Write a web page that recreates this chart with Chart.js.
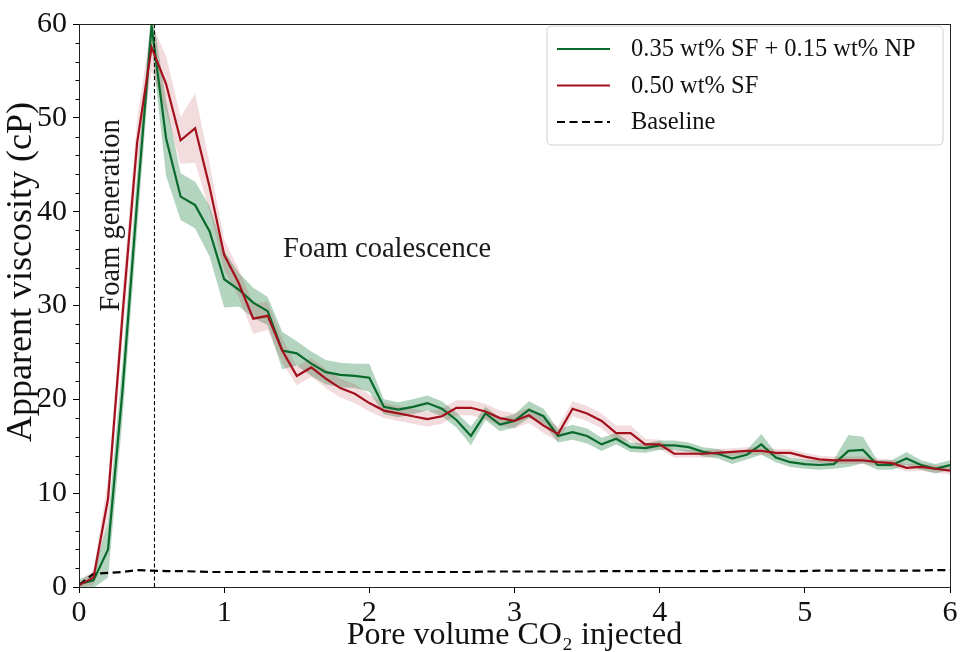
<!DOCTYPE html>
<html><head><meta charset="utf-8">
<script src="https://cdn.jsdelivr.net/npm/chart.js@4.4.1/dist/chart.umd.min.js"></script>
<style>html,body{margin:0;padding:0;background:#fff}#wrap{width:961px;height:652px}</style>
</head><body><div id="wrap"><canvas id="c" width="961" height="652"></canvas></div>
<script>
// ---- data ----
const pv = [0.0,0.1,0.2,0.3,0.4,0.5,0.6,0.7,0.8,0.9,
  1.0,1.1,1.2,1.3,1.4,1.5,1.6,1.7,1.8,1.9,
  2.0,2.1,2.2,2.3,2.4,2.5,2.6,2.7,2.8,2.9,
  3.0,3.1,3.2,3.3,3.4,3.5,3.6,3.7,3.8,3.9,
  4.0,4.1,4.2,4.3,4.4,4.5,4.6,4.7,4.8,4.9,
  5.0,5.1,5.2,5.3,5.4,5.5,5.6,5.7,5.8,5.9,
  6.0];
const sfNp = [0.3,0.7,4.0,21,41,59.8,47.8,41.6,40.7,37.9,
  32.8,31.7,30.3,29.4,25.2,24.9,23.8,22.9,22.6,22.5,
  22.3,19.2,18.9,19.2,19.6,19.0,17.8,16.1,18.5,17.3,
  17.7,18.9,18.2,16.1,16.5,16.1,15.2,15.8,14.9,14.8,
  15.1,15.1,14.9,14.4,14.2,13.7,14.1,15.2,13.8,13.3,
  13.1,13.0,13.1,14.5,14.6,13.0,13.0,13.7,13.0,12.6,
  13.0];
const sfNpErr = [0.5,0.8,3,3,3,2,4,2.5,2.5,2.7,
  3,1.8,1.6,1.5,2,1.3,1.3,1.3,1.3,1.3,
  1.5,0.8,0.8,0.8,0.8,0.8,0.8,1.0,0.7,0.7,
  0.7,0.9,0.8,0.7,0.8,0.8,0.7,0.6,0.5,0.5,
  0.5,0.5,0.5,0.5,0.5,0.6,0.5,1.1,0.5,0.5,
  0.5,0.5,0.5,1.7,1.4,0.5,0.5,0.7,0.5,0.5,
  0.5];
const sf = [0.2,1.0,9.4,29,47.3,57.5,53.6,47.6,48.9,42.6,
  35.4,32.4,28.6,28.9,25.2,22.5,23.4,22.2,21.2,20.6,
  19.6,18.8,18.5,18.2,17.9,18.2,19.1,19.1,18.7,18.0,
  17.7,18.3,17.2,16.3,19.0,18.5,17.7,16.4,16.4,15.2,
  15.2,14.2,14.2,14.2,14.3,14.4,14.5,14.5,14.3,14.3,
  13.9,13.6,13.5,13.5,13.5,13.3,13.2,12.7,12.8,12.6,
  12.4];
const sfErr = [0.3,0.8,2,2.5,2.5,2.5,3,2.5,3.7,2.5,
  1.6,1.5,1.6,1.5,1.3,1.0,1.0,1.0,1.0,1.0,
  0.9,0.8,0.8,0.8,0.8,0.8,0.8,0.8,0.8,0.8,
  0.8,0.8,0.8,0.8,0.8,0.8,0.8,0.8,0.8,0.6,
  0.5,0.4,0.4,0.4,0.4,0.4,0.4,0.4,0.4,0.4,
  0.4,0.4,0.4,0.4,0.4,0.4,0.4,0.4,0.4,0.4,
  0.4];
const baseline = [0.2,1.4,1.5,1.6,1.8,1.75,1.7,1.7,1.65,1.6,
  1.6,1.6,1.6,1.65,1.6,1.6,1.6,1.6,1.6,1.6,
  1.6,1.6,1.6,1.6,1.6,1.6,1.6,1.6,1.65,1.65,
  1.65,1.65,1.65,1.65,1.65,1.65,1.7,1.7,1.7,1.7,
  1.7,1.7,1.7,1.7,1.7,1.75,1.75,1.75,1.75,1.7,
  1.7,1.75,1.75,1.75,1.75,1.75,1.75,1.75,1.75,1.8,
  1.8];
const transitionPV = 0.52;
const xTicks = [0,1,2,3,4,5,6];
const yTicks = [0,10,20,30,40,50,60];
const seriesNames = ['0.35 wt% SF + 0.15 wt% NP','0.50 wt% SF','Baseline'];
const xTitle = 'Pore volume CO\u2082 injected';
const yTitle = 'Apparent viscosity (cP)';
const notes = [
  {text:'Foam generation', x:0.227, y:39.6, rotate:true},
  {text:'Foam coalescence', x:1.405, y:36.0, rotate:false}
];

// ---- styles ----
const FONT = "'Liberation Serif','Times New Roman',serif";
const GREEN = '#0a6a2c', RED = '#a3111d';
const GREEN_FILL = 'rgba(20,120,55,0.32)', RED_FILL = 'rgba(175,40,50,0.16)';

const pts = (ys) => pv.map((x,i)=>({x, y: ys[i]}));
const band = (m,e,s) => pv.map((x,i)=>({x, y: m[i] + s*e[i]}));

const common = {pointRadius:0, pointHoverRadius:0, tension:0, borderWidth:2};
const datasets = [
  {...common, data: band(sfNp,sfNpErr,1), borderWidth:0, borderColor:'transparent', backgroundColor:GREEN_FILL, fill:'+1', order:3},
  {...common, data: band(sfNp,sfNpErr,-1), borderWidth:0, borderColor:'transparent', fill:false, order:3},
  {...common, data: band(sf,sfErr,1), borderWidth:0, borderColor:'transparent', backgroundColor:RED_FILL, fill:'+1', order:2},
  {...common, data: band(sf,sfErr,-1), borderWidth:0, borderColor:'transparent', fill:false, order:2},
  {...common, label: seriesNames[0], inLegend:true, data: pts(sfNp), borderColor:GREEN, borderWidth:2.2, fill:false, order:1},
  {...common, label: seriesNames[1], inLegend:true, data: pts(sf), borderColor:RED, borderWidth:2.2, fill:false, order:0},
  {...common, label: seriesNames[2], inLegend:true, data: pts(baseline), borderColor:'#000', borderWidth:2.2, borderDash:[8,4.5], fill:false, order:0},
  {...common, data: [{x:transitionPV,y:yTicks[0]},{x:transitionPV,y:yTicks[yTicks.length-1]}], borderColor:'#000', borderWidth:1.1, borderDash:[4,2.5], fill:false, order:0}
];

const framePlugin = {
  id:'frame',
  afterDraw(chart){
    const {ctx, chartArea:a, scales} = chart;
    ctx.save();
    // minor y ticks
    ctx.strokeStyle = '#000'; ctx.lineWidth = 1;
    for (let v = 0; v <= 60; v += 2) {
      if (v % 10 === 0) continue;
      const y = Math.round(scales.y.getPixelForValue(v)) + 0.5;
      ctx.beginPath(); ctx.moveTo(a.left - 3.5, y); ctx.lineTo(a.left, y); ctx.stroke();
    }
    ctx.strokeStyle = '#222'; ctx.lineWidth = 1;
    ctx.strokeRect(a.left + 0.5, a.top + 0.5, a.right - a.left, a.bottom - a.top);
    // y axis title
    ctx.save();
    ctx.fillStyle = '#111';
    ctx.font = "36px " + FONT;
    ctx.translate(31, 272);
    ctx.rotate(-Math.PI/2);
    ctx.textAlign = 'center'; ctx.textBaseline = 'alphabetic';
    ctx.fillText(yTitle, 0, 0);
    ctx.restore();
    // annotations
    ctx.fillStyle = '#1a1a1a';
    ctx.font = "28.5px " + FONT;
    notes.forEach(n => {
      const px = scales.x.getPixelForValue(n.x), py = scales.y.getPixelForValue(n.y);
      ctx.save();
      ctx.translate(px, py);
      if (n.rotate) { ctx.rotate(-Math.PI/2); ctx.textAlign = 'center'; }
      else ctx.textAlign = 'left';
      ctx.textBaseline = 'middle';
      ctx.fillText(n.text, 0, 0);
      ctx.restore();
    });
    // legend
    const x0 = 547, y0 = 26, w = 396, h = 119, r = 5;
    ctx.beginPath();
    ctx.moveTo(x0+r, y0); ctx.lineTo(x0+w-r, y0); ctx.quadraticCurveTo(x0+w, y0, x0+w, y0+r);
    ctx.lineTo(x0+w, y0+h-r); ctx.quadraticCurveTo(x0+w, y0+h, x0+w-r, y0+h);
    ctx.lineTo(x0+r, y0+h); ctx.quadraticCurveTo(x0, y0+h, x0, y0+h-r);
    ctx.lineTo(x0, y0+r); ctx.quadraticCurveTo(x0, y0, x0+r, y0);
    ctx.closePath();
    ctx.fillStyle = 'rgba(255,255,255,0.85)'; ctx.fill();
    ctx.strokeStyle = '#d0d0d0'; ctx.lineWidth = 1; ctx.stroke();
    const items = chart.data.datasets.filter(d => d.inLegend);
    ctx.font = "24.5px " + FONT;
    ctx.textAlign = 'left'; ctx.textBaseline = 'middle';
    items.forEach((d, i) => {
      const y = 49 + i * 36.5;
      ctx.strokeStyle = d.borderColor; ctx.lineWidth = d.borderWidth;
      ctx.setLineDash(d.borderDash || []);
      ctx.beginPath(); ctx.moveTo(557, y); ctx.lineTo(610, y); ctx.stroke();
      ctx.setLineDash([]);
      ctx.fillStyle = '#111';
      ctx.fillText(d.label, 631, y + 1);
    });
    ctx.restore();
  }
};

new Chart(document.getElementById('c'), {
  type: 'line',
  data: { datasets },
  options: {
    responsive: false, animation: false, devicePixelRatio: 1,
    layout: { padding: { top: 19, right: 11, left: 0, bottom: 0 } },
    plugins: { legend: { display: false }, tooltip: { enabled: false } },
    scales: {
      x: {
        type: 'linear', min: xTicks[0], max: xTicks[xTicks.length-1],
        afterFit(s){ s.height = 65; },
        afterBuildTicks(s){ s.ticks = xTicks.map(v => ({value: v})); },
        ticks: { color:'#111', font:{family:FONT, size:30}, padding:2, maxRotation:0, callback: v => String(v) },
        grid: { display:true, drawOnChartArea:false, drawTicks:true, tickLength:6, tickColor:'#000' },
        border: { display:true, color:'#222', width:1 },
        title: { display:true, text:xTitle, color:'#111', font:{family:FONT, size:32, lineHeight:1.0}, padding:{top:0,bottom:0} }
      },
      y: {
        type: 'linear', min: yTicks[0], max: yTicks[yTicks.length-1],
        afterFit(s){ s.width = 79; },
        afterBuildTicks(s){ s.ticks = yTicks.map(v => ({value: v})); },
        ticks: { color:'#111', font:{family:FONT, size:30}, padding:6, callback: v => String(v) },
        grid: { display:true, drawOnChartArea:false, drawTicks:true, tickLength:6, tickColor:'#000' },
        border: { display:true, color:'#222', width:1 },
        title: { display:false }
      }
    }
  },
  plugins: [framePlugin]
});
</script></body></html>
